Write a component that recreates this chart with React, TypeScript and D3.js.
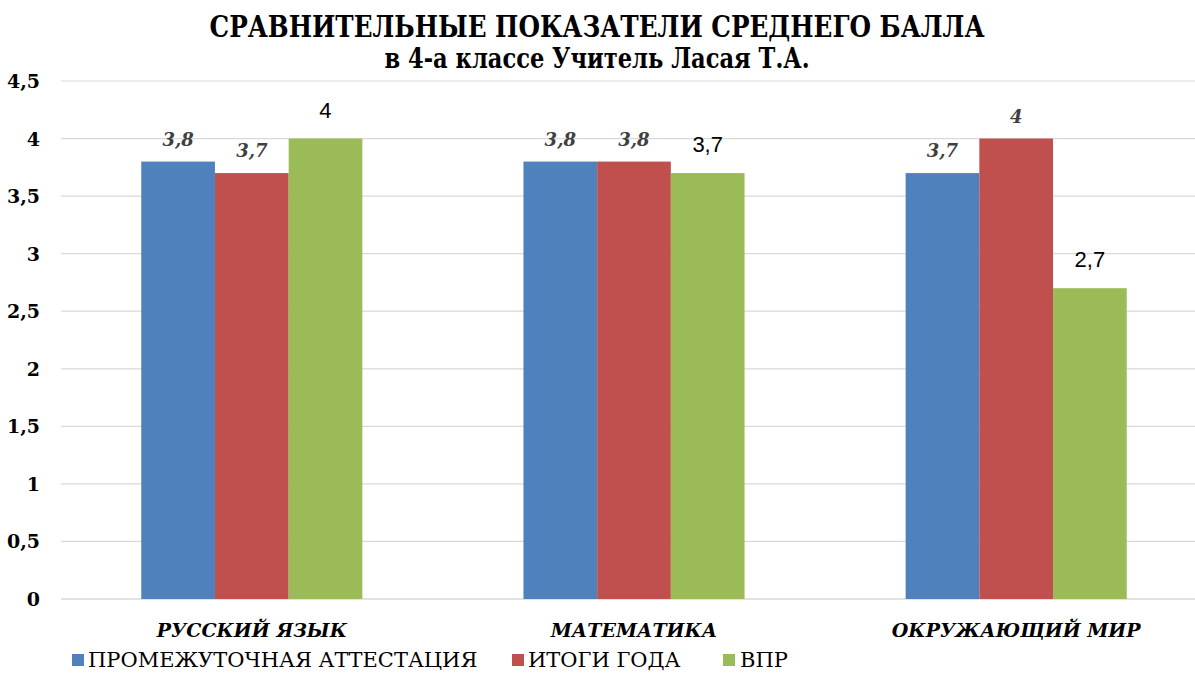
import React from "react";
import * as d3 from "d3";

const categories = ["РУССКИЙ ЯЗЫК", "МАТЕМАТИКА", "ОКРУЖАЮЩИЙ МИР"];
const seriesNames = ["ПРОМЕЖУТОЧНАЯ АТТЕСТАЦИЯ", "ИТОГИ ГОДА", "ВПР"];
const interim = [3.8, 3.8, 3.7];
const yearResults = [3.7, 3.8, 4];
const vpr = [4, 3.7, 2.7];
const yTicks = [0, 0.5, 1, 1.5, 2, 2.5, 3, 3.5, 4, 4.5];
const colors = ["#4F81BD", "#C0504D", "#9BBB59"];

const W = 1195;
const H = 673;
const serif = "DejaVu Serif";
const sans = "Liberation Sans, Arial, sans-serif";

export default function App() {
  const series = [interim, yearResults, vpr];
  const x0 = d3.scaleBand<string>().domain(categories).range([61, 1207]).paddingInner(0.4215).paddingOuter(0.21);
  const x1 = d3.scaleBand<number>().domain([0, 1, 2]).range([0, x0.bandwidth()]);
  const y = d3.scaleLinear().domain([0, 4.5]).range([599, 81]);
  const fmt = (v: number) => String(v).replace(".", ",");
  const sf = { fontFamily: serif };

  const legendItems = [
    { sq: 72, tx: 88 },
    { sq: 512, tx: 528 },
    { sq: 723, tx: 740 },
  ];

  return (
    <svg width={W} height={H} style={{ position: "absolute", left: 0, top: 0, background: "#fff" }}>
      <text x={597} y={37} textAnchor="middle" style={sf} fontWeight="bold" fontSize={30} textLength={775} lengthAdjust="spacingAndGlyphs" fill="#000">
        СРАВНИТЕЛЬНЫЕ ПОКАЗАТЕЛИ СРЕДНЕГО БАЛЛА
      </text>
      <text x={597} y={68} textAnchor="middle" style={sf} fontWeight="bold" fontSize={28} textLength={425} lengthAdjust="spacingAndGlyphs" fill="#000">
        в 4-а классе Учитель Ласая Т.А.
      </text>
      {yTicks.map((t) => (
        <g key={t}>
          <line x1={61} x2={1207} y1={y(t)} y2={y(t)} stroke="#D9D9D9" strokeWidth={t === 0 ? 1.5 : 1.2} />
          <text x={40} y={y(t) + 7} textAnchor="end" style={sf} fontWeight="bold" fontSize={19} fill="#000">
            {fmt(t)}
          </text>
        </g>
      ))}
      {categories.map((c, ci) => (
        <g key={c} transform={`translate(${x0(c)},0)`}>
          {series.map((s, si) => (
            <rect key={si} x={x1(si)} y={y(s[ci])} width={x1.bandwidth()} height={y(0) - y(s[ci])} fill={colors[si]} />
          ))}
          {series.map((s, si) =>
            si < 2 ? (
              <text key={"l" + si} x={(x1(si) as number) + x1.bandwidth() / 2} y={y(s[ci]) - 16} textAnchor="middle" style={sf} fontWeight="bold" fontStyle="italic" fontSize={18} fill="#404040">
                {fmt(s[ci])}
              </text>
            ) : (
              <text key={"l" + si} x={(x1(si) as number) + x1.bandwidth() / 2} y={y(s[ci]) - 21} textAnchor="middle" style={{ fontFamily: sans }} fontSize={22} fill="#000">
                {fmt(s[ci])}
              </text>
            )
          )}
          <text x={x0.bandwidth() / 2} y={637} textAnchor="middle" style={sf} fontWeight="bold" fontStyle="italic" fontSize={19} fill="#000">
            {c}
          </text>
        </g>
      ))}
      {seriesNames.map((n, i) => (
        <g key={n}>
          <rect x={legendItems[i].sq} y={654} width={12} height={12} fill={colors[i]} />
          <text x={legendItems[i].tx} y={667} style={sf} fontSize={21} fill="#000">
            {n}
          </text>
        </g>
      ))}
    </svg>
  );
}
